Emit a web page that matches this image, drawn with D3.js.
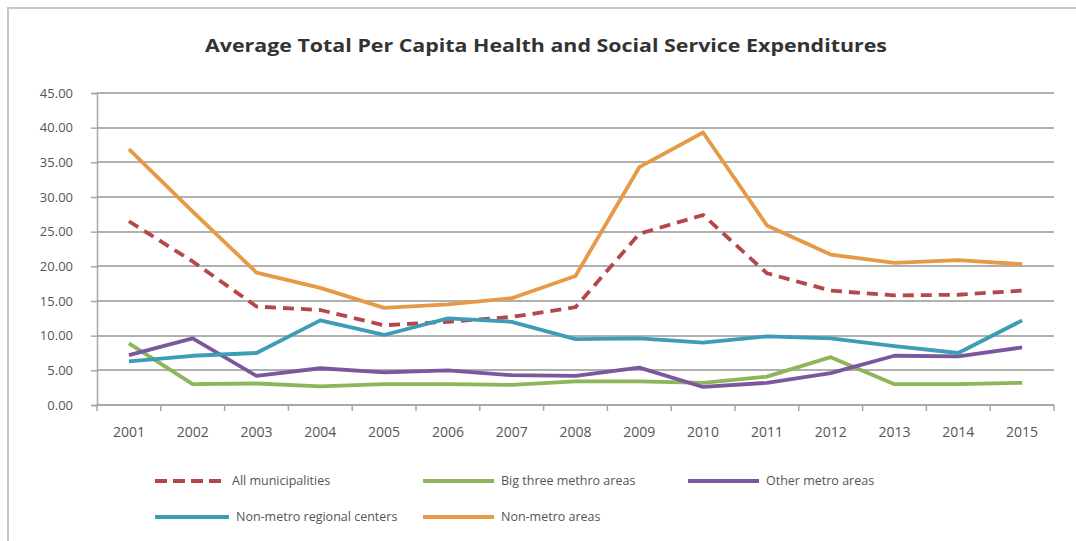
<!DOCTYPE html>
<html>
  <head>
    <meta charset="utf-8">
    <title>Average Total Per Capita Health and Social Service Expenditures</title>
    <style type="text/css">
      body { margin: 0; background: #fff; }
      text { font-family: "Open Sans", "Liberation Sans", sans-serif; }
      .grid line { stroke: #b0b0b0; stroke-width: 2; shape-rendering: crispEdges; }
      .axis path, .axis line { fill: none; stroke: #a6a6a6; stroke-width: 1.5; }
      .axis text { fill: #555; font-size: 13px; }
      path.line { fill: none; stroke-width: 3.8; stroke-linejoin: round; }
    </style>
  </head>
  <body>
    <div id="main"></div>
    <script src="https://d3js.org/d3.v7.min.js"></script>
    <script>
    // Data
    var years = ["2001", "2002", "2003", "2004", "2005", "2006", "2007", "2008",
                 "2009", "2010", "2011", "2012", "2013", "2014", "2015"];
    var allMunicipalities = [26.5, 20.7, 14.2, 13.7, 11.5, 12.0, 12.7, 14.1, 24.7, 27.4, 19.0, 16.5, 15.8, 15.9, 16.5];
    var bigThreeMetro     = [8.9, 3.0, 3.1, 2.7, 3.0, 3.0, 2.9, 3.4, 3.4, 3.2, 4.1, 6.9, 3.0, 3.0, 3.2];
    var otherMetro        = [7.2, 9.6, 4.2, 5.3, 4.7, 5.0, 4.3, 4.2, 5.4, 2.6, 3.2, 4.6, 7.1, 7.0, 8.3];
    var regionalCenters   = [6.3, 7.1, 7.5, 12.2, 10.1, 12.5, 12.0, 9.5, 9.6, 9.0, 9.9, 9.6, 8.5, 7.5, 12.2];
    var nonMetroAreas     = [36.9, 27.9, 19.1, 16.9, 14.0, 14.5, 15.4, 18.6, 34.3, 39.3, 25.9, 21.7, 20.5, 20.9, 20.3];
    var yTicks = [0, 5, 10, 15, 20, 25, 30, 35, 40, 45];

    var series = [
      {name: "All municipalities", values: allMunicipalities, color: "#b5474b", dash: "11,7"},
      {name: "Big three methro areas", values: bigThreeMetro, color: "#8db559", dash: null},
      {name: "Other metro areas", values: otherMetro, color: "#7b579d", dash: null},
      {name: "Non-metro regional centers", values: regionalCenters, color: "#3d9db7", dash: null},
      {name: "Non-metro areas", values: nonMetroAreas, color: "#e59a45", dash: null}
    ];

    var W = 1076, H = 541;
    var plot = {left: 97, right: 1054, top: 93, bottom: 405};

    var svg = d3.select("#main").append("svg")
        .attr("width", W)
        .attr("height", H);

    // chart frame (only top and left edges are in view)
    svg.append("path")
        .attr("d", "M8," + H + "V8H" + W)
        .attr("fill", "none")
        .attr("stroke", "#c8c8c8")
        .attr("stroke-width", 2);

    var x = d3.scaleBand().domain(years).range([plot.left, plot.right]);
    var y = d3.scaleLinear().domain([0, 45]).range([plot.bottom, plot.top]);

    // gridlines
    svg.append("g")
        .attr("class", "grid")
        .selectAll("line")
        .data(yTicks)
        .enter().append("line")
          .attr("x1", plot.left)
          .attr("x2", plot.right)
          .attr("y1", function(d) { return y(d); })
          .attr("y2", function(d) { return y(d); });

    // y axis
    svg.append("g")
        .attr("class", "axis")
        .attr("transform", "translate(" + plot.left + ",0)")
        .call(d3.axisLeft(y).tickValues(yTicks).tickSize(6).tickPadding(18)
              .tickFormat(d3.format(".2f")));

    // x axis, ticks between categories
    var xAxis = svg.append("g")
        .attr("class", "axis")
        .attr("transform", "translate(0," + plot.bottom + ")")
        .call(d3.axisBottom(x).tickSize(0).tickPadding(22));
    xAxis.select(".domain").attr("d", "M" + plot.left + ",0H" + plot.right);
    xAxis.selectAll(".sep")
        .data(years.concat(["end"]))
        .enter().append("line")
          .attr("x1", function(d, i) { return plot.left + i * x.step(); })
          .attr("x2", function(d, i) { return plot.left + i * x.step(); })
          .attr("y1", 0)
          .attr("y2", 6);
    xAxis.selectAll("text").style("font-size", "14px");

    // lines
    var line = d3.line()
        .x(function(d, i) { return x(years[i]) + x.bandwidth() / 2; })
        .y(function(d) { return y(d); });

    series.forEach(function(s) {
      svg.append("path")
          .attr("class", "line")
          .attr("stroke", s.color)
          .attr("stroke-dasharray", s.dash)
          .attr("d", line(s.values));
    });

    // title
    svg.append("text")
        .attr("x", 546)
        .attr("y", 52)
        .attr("text-anchor", "middle")
        .attr("textLength", 682)
        .attr("lengthAdjust", "spacingAndGlyphs")
        .style("font-size", "17px")
        .style("font-weight", "bold")
        .style("fill", "#333")
        .text("Average Total Per Capita Health and Social Service Expenditures");

    // legend
    var legendPos = [
      {x: 155, y: 481, len: 70}, {x: 423, y: 481, len: 71}, {x: 688, y: 481, len: 71},
      {x: 155, y: 517, len: 74}, {x: 423, y: 517, len: 71}
    ];
    var legend = svg.append("g").attr("class", "legend");
    series.forEach(function(s, i) {
      var p = legendPos[i];
      var g = legend.append("g").attr("transform", "translate(" + p.x + "," + p.y + ")");
      g.append("line")
          .attr("x1", 0).attr("x2", p.len)
          .attr("stroke", s.color)
          .attr("stroke-width", 4)
          .attr("stroke-dasharray", s.dash ? "12,6" : null);
      g.append("text")
          .attr("x", p.len + 7)
          .attr("dy", "0.35em")
          .style("font-size", "12.5px")
          .style("fill", "#555")
          .text(s.name);
    });
    </script>
  </body>
</html>
